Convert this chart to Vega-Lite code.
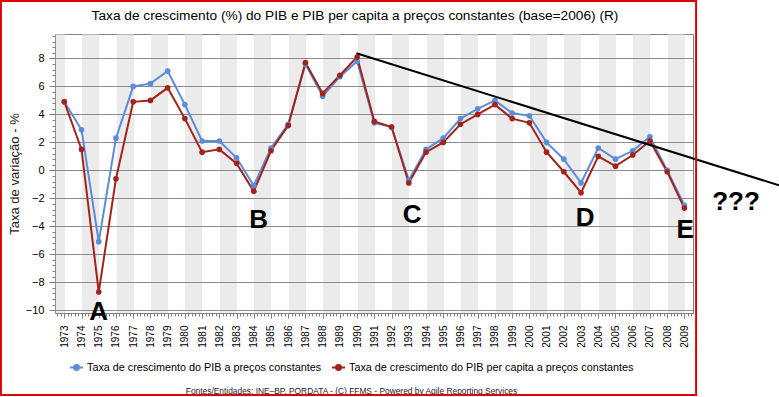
{
  "$schema": "https://vega.github.io/schema/vega-lite/v6.json",
  "width": 638,
  "height": 279,
  "autosize": {"type": "none"},
  "padding": {"left": 55, "top": 34, "right": 86, "bottom": 84},
  "background": "white",
  "config": {
    "font": "Liberation Sans",
    "view": {"stroke": "#808080", "strokeWidth": 1},
    "axis": {"labelFont": "Liberation Sans", "titleFont": "Liberation Sans", "labelColor": "#000000", "tickColor": "#808080", "domainColor": "#808080", "titleColor": "#222222"}
  },
  "title": {"text": "Taxa de crescimento (%) do PIB e PIB per capita a preços constantes (base=2006) (R)", "fontSize": 13.7, "fontWeight": "normal", "font": "Liberation Sans", "color": "#000000", "anchor": "middle", "baseline": "bottom", "dx": -19, "offset": -37},
  "datasets": {
    "series": [
      {"ano": 1973, "pib": 4.9, "pc": 4.9},
      {"ano": 1974, "pib": 2.9, "pc": 1.5},
      {"ano": 1975, "pib": -5.1, "pc": -8.7},
      {"ano": 1976, "pib": 2.3, "pc": -0.6},
      {"ano": 1977, "pib": 6.0, "pc": 4.9},
      {"ano": 1978, "pib": 6.2, "pc": 5.0},
      {"ano": 1979, "pib": 7.1, "pc": 5.9},
      {"ano": 1980, "pib": 4.7, "pc": 3.7},
      {"ano": 1981, "pib": 2.1, "pc": 1.3},
      {"ano": 1982, "pib": 2.1, "pc": 1.5},
      {"ano": 1983, "pib": 0.9, "pc": 0.5},
      {"ano": 1984, "pib": -1.1, "pc": -1.5},
      {"ano": 1985, "pib": 1.6, "pc": 1.4},
      {"ano": 1986, "pib": 3.3, "pc": 3.2},
      {"ano": 1987, "pib": 7.6, "pc": 7.7},
      {"ano": 1988, "pib": 5.3, "pc": 5.5},
      {"ano": 1989, "pib": 6.7, "pc": 6.8},
      {"ano": 1990, "pib": 7.8, "pc": 8.1},
      {"ano": 1991, "pib": 3.4, "pc": 3.5},
      {"ano": 1992, "pib": 3.1, "pc": 3.1},
      {"ano": 1993, "pib": -0.7, "pc": -0.9},
      {"ano": 1994, "pib": 1.5, "pc": 1.3},
      {"ano": 1995, "pib": 2.3, "pc": 2.0},
      {"ano": 1996, "pib": 3.7, "pc": 3.3},
      {"ano": 1997, "pib": 4.4, "pc": 4.0},
      {"ano": 1998, "pib": 5.0, "pc": 4.7},
      {"ano": 1999, "pib": 4.1, "pc": 3.7},
      {"ano": 2000, "pib": 3.9, "pc": 3.4},
      {"ano": 2001, "pib": 2.0, "pc": 1.3},
      {"ano": 2002, "pib": 0.8, "pc": -0.1},
      {"ano": 2003, "pib": -0.9, "pc": -1.6},
      {"ano": 2004, "pib": 1.6, "pc": 1.0},
      {"ano": 2005, "pib": 0.8, "pc": 0.3},
      {"ano": 2006, "pib": 1.4, "pc": 1.1},
      {"ano": 2007, "pib": 2.4, "pc": 2.1},
      {"ano": 2008, "pib": 0.0, "pc": -0.1},
      {"ano": 2009, "pib": -2.5, "pc": -2.7}
    ],
    "anotacoes": [
      {"rotulo": "A", "ano": 1975.0, "valor": -10.14},
      {"rotulo": "B", "ano": 1984.28, "valor": -3.56},
      {"rotulo": "C", "ano": 1993.19, "valor": -3.18},
      {"rotulo": "D", "ano": 2003.24, "valor": -3.38},
      {"rotulo": "E", "ano": 2009.04, "valor": -4.27},
      {"rotulo": "???", "ano": 2012.0, "valor": -2.27}
    ],
    "tendencia": [
      {"ano": 1989.96, "valor": 8.37},
      {"ano": 2014.5, "valor": -1.07}
    ],
    "moldura": [
      {"x0": 1969.32, "x1": 2009.68, "y0": 12.11, "y1": -16.07}
    ]
  },
  "layer": [
    {
      "data": {"name": "series"},
      "transform": [{"fold": ["pib", "pc"], "as": ["serie", "valor"]}],
      "mark": {"type": "line", "strokeWidth": 2},
      "encoding": {
        "x": {
          "field": "ano", "type": "quantitative",
          "scale": {"domain": [1972.46, 2009.5], "nice": false, "zero": false},
          "axis": {
            "orient": "bottom",
            "values": [1972.73, 1974.5, 1976.5, 1978.5, 1980.5, 1982.5, 1984.5, 1986.5, 1988.5, 1990.5, 1992.5, 1994.5, 1996.5, 1998.5, 2000.5, 2002.5, 2004.5, 2006.5, 2008.5],
            "grid": true, "gridColor": "#ebebeb", "gridOpacity": 1,
            "gridWidth": {"condition": {"test": "datum.value < 1973", "value": 9.3}, "value": 17.22},
            "ticks": false, "labels": false, "domain": false, "title": null
          }
        },
        "y": {
          "field": "valor", "type": "quantitative",
          "scale": {"domain": [-10.2, 9.75], "nice": false, "zero": false},
          "axis": {
            "orient": "left",
            "values": [-10, -8, -6, -4, -2, 0, 2, 4, 6, 8],
            "grid": true, "gridColor": "#8a8a8a", "gridWidth": 1,
            "tickSize": 6, "labelFontSize": 11, "labelPadding": 5, "domain": false,
            "title": "Taxa de variação - %", "titleFontSize": 13, "titleFontWeight": "normal", "titlePadding": 4
          }
        },
        "color": {
          "field": "serie", "type": "nominal",
          "scale": {"domain": ["pib", "pc"], "range": ["#5b8bdb", "#a2231a"]},
          "legend": {
            "orient": "none", "legendX": 14, "legendY": 326, "direction": "horizontal", "title": null,
            "labelFontSize": 10.8, "labelFont": "Liberation Sans", "labelColor": "#000000", "labelLimit": 500,
            "labelExpr": "datum.label == 'pib' ? 'Taxa de crescimento do PIB a preços constantes' : 'Taxa de crescimento do PIB per capita a preços constantes'",
            "symbolType": "M-1,0L1,0M-0.38,0A0.38,0.38 0 1,0 0.38,0A0.38,0.38 0 1,0 -0.38,0Z",
            "symbolSize": 169, "symbolStrokeWidth": 2, "columnPadding": 6, "labelOffset": 3, "padding": 0,
            "encode": {"symbols": {"update": {"fill": {"scale": "color", "field": "value"}, "stroke": {"scale": "color", "field": "value"}}}}
          }
        }
      }
    },
    {
      "data": {"name": "series"},
      "transform": [{"fold": ["pib", "pc"], "as": ["serie", "valor"]}],
      "mark": {"type": "point", "filled": true, "size": 32, "opacity": 1},
      "encoding": {
        "x": {
          "field": "ano", "type": "quantitative",
          "axis": {
            "orient": "bottom",
            "values": [1973, 1974, 1975, 1976, 1977, 1978, 1979, 1980, 1981, 1982, 1983, 1984, 1985, 1986, 1987, 1988, 1989, 1990, 1991, 1992, 1993, 1994, 1995, 1996, 1997, 1998, 1999, 2000, 2001, 2002, 2003, 2004, 2005, 2006, 2007, 2008, 2009],
            "format": "d", "labelAngle": 270, "labelFontSize": 10, "labelPadding": 7, "tickSize": 5,
            "grid": false, "domain": true, "labelOverlap": false,
            "title": "Fontes/Entidades: INE–BP, PORDATA - (C) FFMS - Powered by Agile Reporting Services",
            "titleFontSize": 8.4, "titleFontWeight": "normal", "titleX": 296, "titleY": 77, "titleAlign": "center", "titleBaseline": "middle", "titleColor": "#222222"
          }
        },
        "y": {
          "field": "valor", "type": "quantitative",
          "axis": {
            "orient": "left",
            "values": [-10, -9.6, -9.2, -8.8, -8.4, -8, -7.6, -7.2, -6.8, -6.4, -6, -5.6, -5.2, -4.8, -4.4, -4, -3.6, -3.2, -2.8, -2.4, -2, -1.6, -1.2, -0.8, -0.4, 0, 0.4, 0.8, 1.2, 1.6, 2, 2.4, 2.8, 3.2, 3.6, 4, 4.4, 4.8, 5.2, 5.6, 6, 6.4, 6.8, 7.2, 7.6, 8, 8.4, 8.8, 9.2, 9.6],
            "labels": false, "grid": false, "domain": false, "tickSize": 3, "title": null
          }
        },
        "color": {"field": "serie", "type": "nominal"}
      }
    },
    {
      "data": {"name": "anotacoes"},
      "mark": {"type": "text", "font": "Liberation Sans", "fontWeight": "bold", "fontSize": 26, "align": "center", "baseline": "middle", "color": "#000000", "clip": false},
      "encoding": {
        "x": {
          "field": "ano", "type": "quantitative",
          "axis": {"orient": "bottom", "tickCount": 200, "labels": false, "grid": false, "domain": false, "tickSize": 3, "title": null}
        },
        "y": {"field": "valor", "type": "quantitative", "axis": null},
        "text": {"field": "rotulo"}
      }
    },
    {
      "data": {"name": "tendencia"},
      "mark": {"type": "line", "color": "#000000", "strokeWidth": 2, "clip": false},
      "encoding": {
        "x": {"field": "ano", "type": "quantitative", "axis": null},
        "y": {"field": "valor", "type": "quantitative", "axis": null}
      }
    },
    {
      "data": {"name": "moldura"},
      "mark": {"type": "rect", "fillOpacity": 0, "stroke": "#e00000", "strokeWidth": 2, "clip": false},
      "encoding": {
        "x": {"field": "x0", "type": "quantitative", "axis": null},
        "x2": {"field": "x1"},
        "y": {"field": "y0", "type": "quantitative", "axis": null},
        "y2": {"field": "y1"}
      }
    }
  ],
  "resolve": {"axis": {"x": "independent", "y": "independent"}}
}
